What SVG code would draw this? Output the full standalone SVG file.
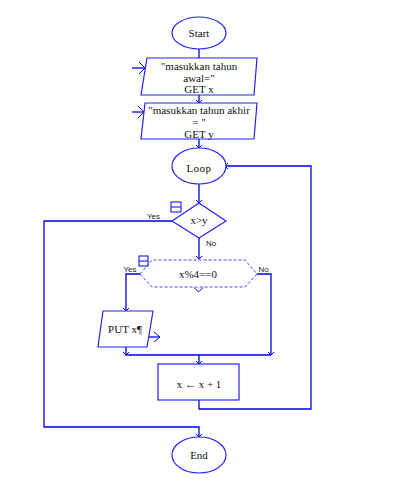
<svg xmlns="http://www.w3.org/2000/svg" width="412" height="487" viewBox="0 0 412 487">
<defs>
<style>
.sh{fill:#fff;stroke:#2222ff;stroke-width:1.2}
.dash{fill:#fff;stroke:#4444ff;stroke-width:1;stroke-dasharray:3 2}
.ln{fill:none;stroke:#0000ee;stroke-width:1.3}
.ah{fill:none;stroke:#0000ee;stroke-width:1}
.t{font-family:"Liberation Serif","Times New Roman",serif;font-size:11px;fill:#111;text-anchor:middle}
.lb{font-family:"Liberation Sans",Arial,sans-serif;font-size:8px;fill:#222}
.ic{fill:#fff;stroke:#0000ee;stroke-width:1}
</style>
</defs>
<rect width="412" height="487" fill="#fff"/>
<g id="connectors">
<path class="ln" d="M199,49V103"/>
<path class="ah" d="M196,100L199,103L202,100"/>
<path class="ln" d="M199,139V148"/>
<path class="ah" d="M196,145L199,148L202,145"/>
<path class="ln" d="M199,184V203"/>
<path class="ah" d="M196,200L199,203L202,200"/>
<path class="ln" d="M199,238V259"/>
<path class="ah" d="M196,256L199,259L202,256"/>
<path class="ln" d="M172,221H44V427H199V437"/>
<path class="ah" d="M196,434L199,437L202,434"/>
<path class="ln" d="M140,274H126V311"/>
<path class="ah" d="M123,308L126,311L129,308"/>
<path class="ln" d="M257,274H271V355"/>
<path class="ah" d="M268,352L271,355L274,352"/>
<path class="ln" d="M126,347V355H271"/>
<path class="ah" d="M123,352L126,355L129,352"/>
<path class="ln" d="M199,355V364"/>
<path class="ah" d="M196,361L199,364L202,361"/>
<path class="ln" d="M199,400V409H311V166H225"/>
<path class="ah" d="M228,163L225,166L228,169"/>
<path class="ln" d="M132,68H145"/>
<path class="ah" d="M139,62L145,68L139,74"/>
<path class="ln" d="M132,112H144"/>
<path class="ah" d="M138,106L144,112L138,118"/>
<path class="ln" d="M147,337H160"/>
<path class="ah" d="M154,332L160,337L154,342"/>
</g>
<g id="start">
<ellipse class="sh" cx="199" cy="33" rx="27" ry="16"/>
<text class="t" x="199" y="37">Start</text>
</g>
<g id="input1">
<polygon class="sh" points="147,58 257,58 254,95 141,95"/>
<text class="t" x="199" y="70">"masukkan tahun</text>
<text class="t" x="199" y="81.5">awal="</text>
<text class="t" x="199" y="93">GET x</text>
</g>
<g id="input2">
<polygon class="sh" points="145,103 257,103 254,139 141,139"/>
<text class="t" x="199" y="114">"masukkan tahun akhir</text>
<text class="t" x="199" y="125.5">= "</text>
<text class="t" x="199" y="137.5">GET y</text>
</g>
<g id="loop">
<ellipse class="sh" cx="199" cy="166" rx="27" ry="18"/>
<text class="t" x="199" y="171.5" letter-spacing="0.5">Loop</text>
</g>
<g id="cond1">
<polygon class="sh" points="199,203 226,221 199,238 172,221"/>
<text class="t" x="199" y="224">x&gt;y</text>
<rect class="ic" x="171" y="202" width="10" height="10"/>
<path class="ic" d="M171,207H181"/>
<text class="lb" x="147" y="219">Yes</text>
<text class="lb" x="206" y="245.5">No</text>
</g>
<g id="cond2">
<polygon class="dash" points="140,274 152,260 245,260 257,274 245,287 152,287"/>
<path class="ah" d="M194,287.5L198.5,292L203,287.5"/>
<text class="t" x="198" y="277.5">x%4==0</text>
<rect class="ic" x="139" y="256" width="9" height="10"/>
<path class="ic" d="M139,261H148"/>
<text class="lb" x="123.5" y="271.5">Yes</text>
<text class="lb" x="258.5" y="271.5">No</text>
</g>
<g id="output">
<polygon class="sh" points="103,311 153,311 147,347 98,347"/>
<text class="t" x="125" y="333">PUT x¶</text>
</g>
<g id="increment">
<rect class="sh" x="158" y="364" width="81" height="36"/>
<text class="t" x="199" y="388">x ← x + 1</text>
</g>
<g id="end">
<ellipse class="sh" cx="199" cy="455" rx="27" ry="18"/>
<text class="t" x="199" y="459">End</text>
</g>
</svg>
